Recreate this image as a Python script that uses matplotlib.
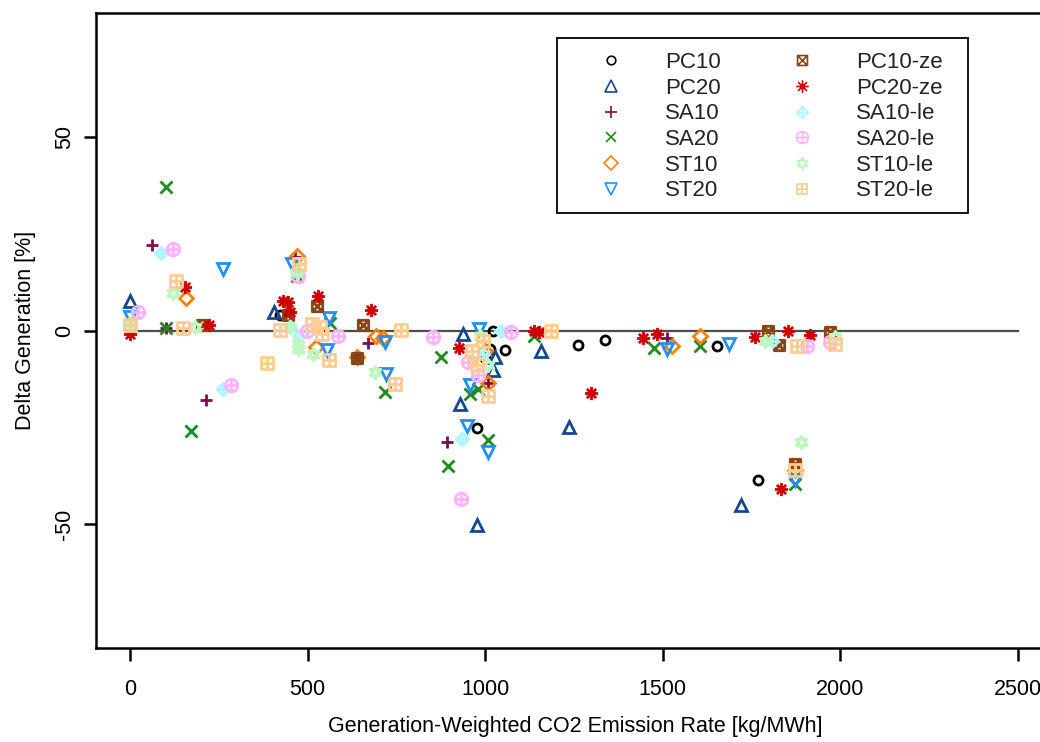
"""Delta generation vs generation-weighted CO2 emission rate, per scenario"""

import matplotlib
matplotlib.use("Agg")
import matplotlib.pyplot as plt
import numpy as np
from matplotlib.path import Path
from matplotlib.patches import Rectangle
from matplotlib.lines import Line2D

plt.rcParams["font.family"] = ["Liberation Sans", "DejaVu Sans"]
plt.rcParams["axes.unicode_minus"] = False

# ---- data ----
pc10_x = [423, 1023, 1056, 1014, 977, 1263, 1338, 1654, 1770, 1000]
pc10_y = [4.1, 0.0, -5.0, -4.7, -25.3, -3.7, -2.4, -3.9, -38.7, -7.0]

pc20_x = [0, 406, 939, 1028, 1023, 928, 977, 1158, 1235, 1720]
pc20_y = [7.7, 4.7, -0.9, -6.9, -10.3, -18.9, -50.3, -5.2, -24.9, -45.1]

sa10_x = [61, 101, 214, 671, 638, 892, 1512, 465, 1007]
sa10_y = [22.2, 0.6, -18.0, -3.2, -7.0, -28.8, -1.9, 19.0, -13.6]

sa20_x = [101, 101, 171, 471, 563, 718, 875, 958, 981, 895, 1009, 1476, 1606, 1873, 1138]
sa20_y = [37.1, 0.6, -26.0, 14.2, 2.0, -15.9, -6.9, -16.3, -15.0, -35.0, -28.2, -4.6, -4.1, -39.6, -1.3]

st10_x = [158, 470, 638, 693, 524, 1000, 1007, 1526, 1606, 712, 1873]
st10_y = [8.3, 19.3, -6.9, -1.5, -4.3, -5.2, -13.6, -3.9, -1.5, -2.0, -36.0]

st20_x = [0, 263, 455, 561, 554, 718, 721, 984, 958, 948, 1009, 1512, 1688, 1873]
st20_y = [3.6, 15.9, 17.2, 3.2, -5.0, -3.0, -11.2, 0.4, -14.2, -24.7, -31.3, -4.7, -3.4, -38.7]

pc10ze_x = [202, 526, 655, 1798, 1829, 1972, 1873, 445, 640]
pc10ze_y = [1.3, 6.4, 1.5, 0.0, -3.7, -0.4, -34.4, 4.0, -7.0]

pc20ze_x = [156, 223, 445, 451, 432, 528, 678, 927, 1138, 1152, 1298, 1446, 1484, 1761, 1854,
            1915, 1834, 0]
pc20ze_y = [11.2, 1.5, 7.3, 4.7, 7.6, 9.0, 5.2, -4.5, 0.0, -0.5, -16.2, -1.9, -0.9, -1.7, 0.0,
            -1.1, -41.0, -0.8]

sa10le_x = [86, 261, 0, 477, 451, 1044, 934, 1807, 470, 995]
sa10le_y = [20.0, -15.0, 1.5, -1.3, 0.9, 0.0, -27.9, -2.6, 15.0, -6.0]

sa20le_x = [122, 23, 285, 587, 498, 854, 953, 981, 932, 1072, 1906, 1972, 472]
sa20le_y = [21.0, 4.7, -14.2, -1.5, 0.0, -1.7, -8.2, -11.6, -43.4, -0.4, -3.9, -3.0, 14.0]

st10le_x = [120, 183, 0, 451, 474, 474, 515, 690, 986, 1009, 1789, 1986, 1889, 470]
st10le_y = [9.6, 0.9, 2.0, 0.9, -3.4, -4.8, -6.0, -10.7, -1.3, -9.0, -2.6, -1.7, -28.9, 15.0]

st20le_x = [130, 0, 150, 385, 423, 477, 512, 535, 541, 559, 746, 762, 995, 962, 977, 1009,
            1185, 1880, 1986, 1873]
st20le_y = [12.9, 1.3, 0.6, -8.4, 0.2, 17.3, 1.7, 0.9, -0.9, -7.7, -13.7, 0.2, -2.6, -5.2, -9.0,
            -16.8, 0.0, -3.9, -3.4, -36.0]

labels = ["PC10", "PC20", "SA10", "SA20", "ST10", "ST20",
          "PC10-ze", "PC20-ze", "SA10-le", "SA20-le", "ST10-le", "ST20-le"]
colors = ["#000000", "#15478F", "#7A0F4E", "#1E8C1E", "#FF8000", "#1E90FF",
          "#8B4513", "#CC0000", "#B0F5FF", "#FFB3FF", "#BFF7BF", "#FFCC8F"]


# ---- R-style pch symbols that matplotlib lacks ----
def compound(*parts):
    verts, codes = [], []
    for pts, closed in parts:
        verts += pts
        codes += [Path.MOVETO] + [Path.LINETO] * (len(pts) - 1)
        if closed:
            verts.append(pts[0])
            codes.append(Path.CLOSEPOLY)
    return Path(verts, codes)


sq = [(-1, -1), (1, -1), (1, 1), (-1, 1)]
hline = [(-1, 0), (1, 0)]
vline = [(0, -1), (0, 1)]
sq_x = compound((sq, True), ([(-1, -1), (1, 1)], False), ([(-1, 1), (1, -1)], False))
dia_plus = compound(([(0, 1), (1, 0), (0, -1), (-1, 0)], True), (hline, False), (vline, False))
circ = Path.unit_circle()
circ_plus = Path(np.vstack([circ.vertices, [[-1, 0], [1, 0], [0, -1], [0, 1]]]),
                 np.concatenate([circ.codes, [Path.MOVETO, Path.LINETO, Path.MOVETO, Path.LINETO]]))
star = compound(([(0, 1), (-0.866, -0.5), (0.866, -0.5)], True),
                ([(0, -1), (-0.866, 0.5), (0.866, 0.5)], True))
sq_plus = compound((sq, True), (hline, False), (vline, False))
asterisk = compound((hline, False), (vline, False),
                    ([(-0.7, -0.7), (0.7, 0.7)], False), ([(-0.7, 0.7), (0.7, -0.7)], False))

markers = ["o", "^", "+", "x", "D", "v", sq_x, asterisk, dia_plus, circ_plus, star, sq_plus]
sizes = [6.5, 8.5, 9, 8, 7, 8.5, 7.5, 9.5, 9, 9, 9, 8]

series = [(pc10_x, pc10_y), (pc20_x, pc20_y), (sa10_x, sa10_y), (sa20_x, sa20_y),
          (st10_x, st10_y), (st20_x, st20_y), (pc10ze_x, pc10ze_y), (pc20ze_x, pc20ze_y),
          (sa10le_x, sa10le_y), (sa20le_x, sa20le_y), (st10le_x, st10le_y), (st20le_x, st20le_y)]

W, H = 1040, 742
fig = plt.figure(figsize=(W / 100, H / 100), dpi=100)
ax = fig.add_axes([96 / W, 1 - 648 / H, 958.5 / W, 635 / H])

ax.plot([0, 2500], [0, 0], color="#4d4d4d", lw=1.6, zorder=1)

handles = []
for (xs, ys), lab, col, mk, ms in zip(series, labels, colors, markers, sizes):
    ax.plot(xs, ys, ls="none", marker=mk, ms=ms, mew=2, mfc="none", mec=col, zorder=3)
    # legend symbols are drawn with a thinner pen, as in the original
    handles.append(Line2D([], [], ls="none", marker=mk, ms=ms * 0.95, mew=1.2,
                          mfc="none", mec=col))

ax.set_xlim(-96, 2604)
ax.set_ylim(-82, 82)
ax.set_xticks([0, 500, 1000, 1500, 2000, 2500])
ax.set_yticks([-50, 0, 50])
for s in ax.spines.values():
    s.set_linewidth(1.8)
ax.tick_params(axis="both", direction="out", length=9, width=1.8, labelsize=15.5)
ax.tick_params(axis="x", pad=13)
ax.tick_params(axis="y", labelrotation=90, pad=6)
for t in ax.get_yticklabels():
    t.set_va("center")
ax.set_xlabel("Generation-Weighted CO2 Emission Rate [kg/MWh]", fontsize=15.5, labelpad=12)
ax.set_ylabel("Delta Generation [%]", fontsize=15.5, labelpad=13)

fig.patches.append(Rectangle((557 / W, 1 - 213 / H), 411 / W, 175 / H, transform=fig.transFigure,
                             fill=False, edgecolor="black", lw=1.3))
leg = ax.legend(handles, labels, ncol=2, frameon=False, fontsize=16,
                loc="upper left", bbox_to_anchor=(600 / W, 1 - 52 / H),
                bbox_transform=fig.transFigure, borderpad=0, borderaxespad=0,
                handlelength=1.0, handletextpad=1.93, columnspacing=3.16,
                labelspacing=0.21, numpoints=1)
for t in leg.get_texts():
    t.set_color("#222222")

fig.savefig("out.png", dpi=100)
